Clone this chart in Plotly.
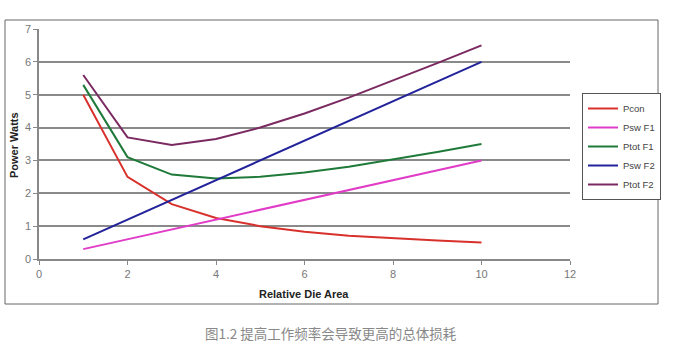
import plotly.graph_objects as go

die_area = [1, 2, 3, 4, 5, 6, 7, 8, 9, 10]
pcon = [5.0, 2.5, 1.67, 1.25, 1.0, 0.83, 0.71, 0.63, 0.56, 0.5]
psw_f1 = [0.3, 0.6, 0.9, 1.2, 1.5, 1.8, 2.1, 2.4, 2.7, 3.0]
ptot_f1 = [5.3, 3.1, 2.57, 2.45, 2.5, 2.63, 2.81, 3.03, 3.26, 3.5]
psw_f2 = [0.6, 1.2, 1.8, 2.4, 3.0, 3.6, 4.2, 4.8, 5.4, 6.0]
ptot_f2 = [5.6, 3.7, 3.47, 3.65, 4.0, 4.43, 4.91, 5.43, 5.96, 6.5]

series_names = ["Pcon", "Psw F1", "Ptot F1", "Psw F2", "Ptot F2"]
series_values = [pcon, psw_f1, ptot_f1, psw_f2, ptot_f2]
colors = ["#d8312c", "#e03cc8", "#1f7a3a", "#22229a", "#7a2a60"]

x_ticks = [0, 2, 4, 6, 8, 10, 12]
y_ticks = [0, 1, 2, 3, 4, 5, 6, 7]

fig = go.Figure()
for name, vals, col in zip(series_names, series_values, colors):
    fig.add_trace(go.Scatter(x=die_area, y=vals, mode="lines", name=name,
                             line=dict(color=col, width=2)))

W, H = 681, 357
L, R, T, B = 39, 570, 29, 259

def px(xp):
    return (xp - L) / (R - L)

def py(yp):
    return (B - yp) / (B - T)

fig.update_layout(
    width=W, height=H,
    margin=dict(l=L, r=W - R, t=T, b=H - B, autoexpand=False),
    paper_bgcolor="white", plot_bgcolor="white",
    font=dict(family="Liberation Sans, Arial, sans-serif", color="#555555", size=11),
    showlegend=True,
    legend=dict(x=px(582), y=py(93), xanchor="left", yanchor="top",
                bordercolor="#555555", borderwidth=1, bgcolor="white",
                font=dict(size=9.5, color="#444444"),
                itemwidth=30, tracegroupgap=0),
    xaxis=dict(range=[0, 12], tickvals=x_ticks, ticktext=[str(v) for v in x_ticks],
               showgrid=False, zeroline=False, showline=True, linecolor="#888888",
               linewidth=1.5, ticks="outside", ticklen=4, tickcolor="#888888",
               tickfont=dict(size=11, color="#777777")),
    yaxis=dict(range=[0, 7], tickvals=y_ticks, showgrid=True, gridcolor="#8a8a8a",
               gridwidth=1.5, zeroline=False, showline=True, linecolor="#888888",
               linewidth=1.5, ticks="outside", ticklen=4, tickcolor="#888888",
               tickfont=dict(size=11, color="#777777")),
    shapes=[dict(type="rect", xref="paper", yref="paper",
                 x0=px(5), x1=px(658), y0=py(304), y1=py(20),
                 line=dict(color="#666666", width=1), fillcolor="rgba(0,0,0,0)",
                 layer="below")],
    annotations=[
        dict(text="<b>Power Watts</b>", xref="paper", yref="paper", x=px(14), y=py(145),
             xanchor="center", yanchor="middle",
             showarrow=False, textangle=-90, font=dict(size=11, color="#222222")),
        dict(text="<b>Relative Die Area</b>", xref="paper", yref="paper", x=px(304), y=py(294),
             xanchor="center", yanchor="middle",
             showarrow=False, font=dict(size=11, color="#222222")),
        dict(text="图1.2 提高工作频率会导致更高的总体损耗", xref="paper", yref="paper",
             x=px(331), y=py(333), xanchor="center", yanchor="middle", showarrow=False,
             font=dict(size=13.5, color="#888888", family="Noto Sans CJK SC")),
    ],
)

fig.write_html("out.html", config={"displayModeBar": False},
               post_script="document.body.style.margin='0';")
